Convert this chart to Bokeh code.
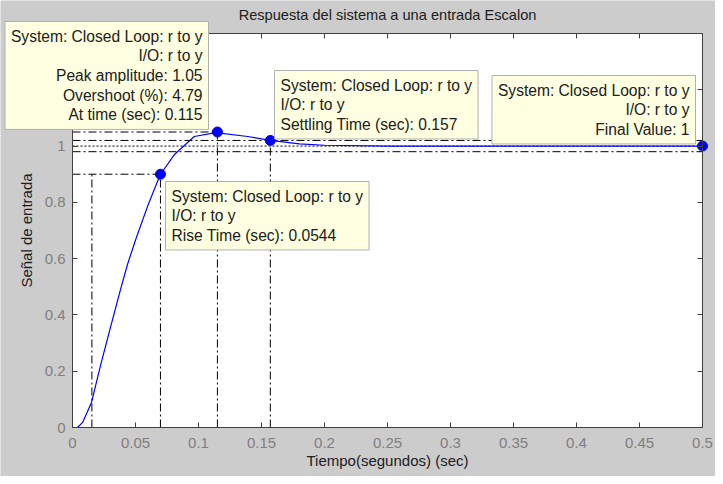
from bokeh.plotting import figure
from bokeh.models import Range1d, LinearAxis, Label, FixedTicker, ColumnDataSource, BoxAnnotation
from bokeh.embed import file_html
from bokeh.resources import INLINE

# ---- data ----
time_s = [0, 0.004, 0.008, 0.0151, 0.0225, 0.0304, 0.0384, 0.0437, 0.0503, 0.0595,
          0.0696, 0.0807, 0.0966, 0.1138, 0.139, 0.157, 0.18, 0.2, 0.25, 0.3, 0.4, 0.5]
response = [0, 0.0, 0.018, 0.089, 0.225, 0.36, 0.495, 0.58, 0.67, 0.785,
            0.898, 0.969, 1.034, 1.048, 1.034, 1.02, 1.008, 1.003, 1.0, 1.0, 1.0, 1.0]

rise_times = [0.0154, 0.0698]
rise_level = 0.9
peak_time = 0.115
peak_value = 1.05
settle_time = 0.157
settle_band = [0.98, 1.02]
final_time = 0.5
final_value = 1.0

x_ticks = [0, 0.05, 0.1, 0.15, 0.2, 0.25, 0.3, 0.35, 0.4, 0.45, 0.5]
x_tick_labels = ["0", "0.05", "0.1", "0.15", "0.2", "0.25", "0.3", "0.35", "0.4", "0.45", "0.5"]
y_ticks = [0, 0.2, 0.4, 0.6, 0.8, 1.0, 1.2, 1.4]
y_tick_labels = ["0", "0.2", "0.4", "0.6", "0.8", "1", "1.2", "1.4"]

title_text = "Respuesta del sistema a una entrada Escalon"
x_label = "Tiempo(segundos) (sec)"
y_label = "Señal de entrada"

tip_peak = "System: Closed Loop: r to y\nI/O: r to y\nPeak amplitude: 1.05\nOvershoot (%): 4.79\nAt time (sec): 0.115"
tip_settle = "System: Closed Loop: r to y\nI/O: r to y\nSettling Time (sec): 0.157"
tip_final = "System: Closed Loop: r to y\nI/O: r to y\nFinal Value: 1"
tip_rise = "System: Closed Loop: r to y\nI/O: r to y\nRise Time (sec): 0.0544"

FONT = "Liberation Sans"
BG = "#CCCCCC"
TIP_BG = "#FFFFE1"
AX = "#404040"

W, H = 715, 476
X0, Y0 = x_ticks[0], y_ticks[0]
X1, Y1 = x_ticks[-1], y_ticks[-1]
# axes box on the figure canvas (pixels): x 72..702, y 33..427
PX_L, PX_R, PY_T, PY_B = 72, 702, 33, 427
sx = (PX_R - PX_L) / (X1 - X0)
sy = (PY_B - PY_T) / (Y1 - Y0)
x_range = Range1d(X0 - PX_L / sx, X1 + (W - PX_R) / sx)
y_range = Range1d(Y0 - (H - PY_B) / sy, Y1 + PY_T / sy)

p = figure(width=W, height=H, x_range=x_range, y_range=y_range,
           output_backend="svg", toolbar_location=None,
           x_axis_location=None, y_axis_location=None,
           min_border=0)
p.background_fill_color = BG
p.border_fill_color = BG
p.outline_line_color = None
p.grid.visible = False

# page pixel -> data helpers (page = canvas + 8)
def dx(px):
    return X0 + (px - 8 - PX_L) / sx

def dy(py):
    return Y0 + (PY_B - (py - 8)) / sy

p.add_layout(BoxAnnotation(left=X0, right=X1, bottom=Y0, top=Y1, fill_color="white",
                           fill_alpha=1, line_color=None, level="underlay"))

def make_axis(ticks, labels, loc, bounds, show_labels, axis_label=None):
    ax = LinearAxis(ticker=FixedTicker(ticks=ticks), fixed_location=loc, bounds=bounds,
                    major_tick_in=5, major_tick_out=0, minor_tick_line_color=None,
                    axis_line_color=AX, major_tick_line_color=AX,
                    major_label_text_font=FONT, major_label_text_font_size="15px",
                    major_label_text_color="#808080",
                    axis_label_text_font=FONT, axis_label_text_font_size="15px",
                    axis_label_text_font_style="normal", axis_label_text_color="#202020")
    if show_labels:
        ax.major_label_overrides = dict(zip(ticks, labels))
    else:
        ax.major_label_overrides = {t: "" for t in ticks}
    if axis_label:
        ax.axis_label = axis_label
    return ax

xb = make_axis(x_ticks, x_tick_labels, Y0, (X0, X1), True, x_label)
xb.major_label_standoff = 10
xb.axis_label_standoff = 1
yl = make_axis(y_ticks, y_tick_labels, X0, (Y0, Y1), True, y_label)
yl.major_label_standoff = 7
yl.axis_label_standoff = 7
xt = make_axis(x_ticks, x_tick_labels, Y1, (X0, X1), False)
yr = make_axis(y_ticks, y_tick_labels, X1, (Y0, Y1), False)
p.add_layout(xb, "below")
p.add_layout(yl, "left")
p.add_layout(xt, "above")
p.add_layout(yr, "right")

# characteristic guide lines
DASHDOT = "8 3 2 3"
seg = ColumnDataSource(dict(
    x0=[X0, rise_times[0], rise_times[1], X0, peak_time, X0, X0, settle_time],
    y0=[rise_level, Y0, Y0, peak_value, Y0, settle_band[0], settle_band[1], Y0],
    x1=[rise_times[1], rise_times[0], rise_times[1], peak_time, peak_time, final_time, final_time, settle_time],
    y1=[rise_level, rise_level, rise_level, peak_value, peak_value, settle_band[0], settle_band[1], settle_band[1]],
))
p.segment("x0", "y0", "x1", "y1", source=seg, line_color="black", line_width=1, line_dash=DASHDOT)
p.segment(x0=[X0], y0=[final_value], x1=[final_time], y1=[final_value],
          line_color="black", line_width=1, line_dash="2 2")

p.line(time_s, response, line_color="#0000FF", line_width=1.2)
p.scatter([rise_times[1], peak_time, settle_time, final_time],
          [rise_level, peak_value, settle_band[1], final_value],
          size=10, color="#0000FF")

p.add_layout(Label(x=(X0 + X1) / 2, y=dy(22), text=title_text, text_align="center",
                   text_baseline="middle", text_font=FONT, text_font_size="14.6px",
                   text_color="#202020"))

def tip(x, y, text, align):
    return Label(x=x, y=y, text=text, text_align=align, text_baseline="top",
                 text_font=FONT, text_font_size="15.6px", text_color="#202020",
                 text_line_height=1.16, background_fill_color=TIP_BG,
                 border_line_color="#B0B0B0", padding=6)

p.add_layout(tip(dx(216), dy(29), tip_peak, "right"))
p.add_layout(tip(dx(282), dy(78), tip_settle, "left"))
p.add_layout(tip(dx(703), dy(83), tip_final, "right"))
p.add_layout(tip(dx(173), dy(189), tip_rise, "left"))

open("out.html", "w").write(file_html(p, INLINE))
